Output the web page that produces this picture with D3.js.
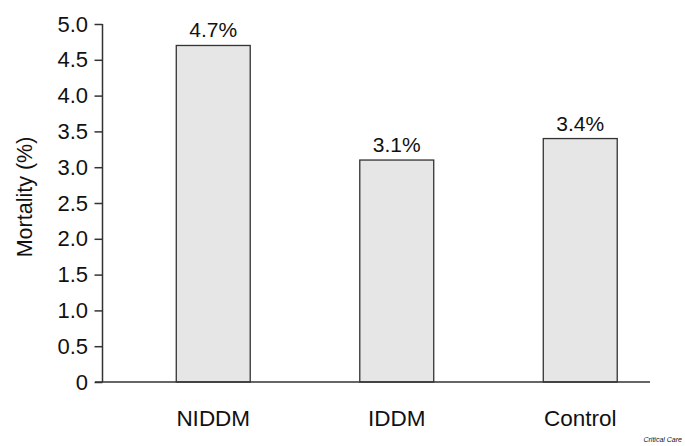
<!DOCTYPE html>
<html><head><meta charset="utf-8">
<script src="https://cdn.jsdelivr.net/npm/d3@7"></script>
<style>body{margin:0;background:#fff}svg{display:block}text{font-family:"Liberation Sans",Arial,sans-serif;fill:#111}</style>
</head><body>
<script>
const categories = ["NIDDM", "IDDM", "Control"];
const values = [4.7, 3.1, 3.4];
const valueLabels = ["4.7%", "3.1%", "3.4%"];
const yTicks = [0, 0.5, 1.0, 1.5, 2.0, 2.5, 3.0, 3.5, 4.0, 4.5, 5.0];

const W = 685, H = 446;
const svg = d3.select("body").append("svg").attr("width", W).attr("height", H);
const y = d3.scaleLinear().domain([0, 5]).range([382, 24]);
const x = d3.scaleBand().domain(categories).range([121.5, 672]).paddingInner(0.597).paddingOuter(0.2985);
const axisX = 102.5;

// bars
svg.selectAll("rect.bar").data(values).join("rect")
  .attr("x", (d, i) => x(categories[i]))
  .attr("y", d => y(d))
  .attr("width", x.bandwidth())
  .attr("height", d => y(0) - y(d))
  .attr("fill", "#e6e6e6").attr("stroke", "#333").attr("stroke-width", 1.3);

// y axis
const yAxis = d3.axisLeft(y).tickValues(yTicks).tickSize(8).tickPadding(6.5)
  .tickFormat(d => d === 0 ? "0" : d3.format(".1f")(d));
const gy = svg.append("g").attr("transform", `translate(${axisX},0)`).call(yAxis);
gy.select(".domain").attr("stroke", "#333").attr("stroke-width", 1.5).attr("d", `M0,${y(5)}V${y(0)}`);
gy.selectAll(".tick line").attr("stroke", "#333").attr("stroke-width", 1.5);
gy.selectAll(".tick text").attr("font-size", 22).attr("font-family", "Liberation Sans, Arial, sans-serif").attr("fill", "#111");

// x axis baseline
svg.append("line").attr("x1", 95).attr("x2", 650).attr("y1", y(0)).attr("y2", y(0))
  .attr("stroke", "#333").attr("stroke-width", 1.5);

// x labels
svg.selectAll("text.xl").data(categories).join("text")
  .attr("x", d => x(d) + x.bandwidth() / 2).attr("y", 426)
  .attr("text-anchor", "middle").attr("font-size", 22.5).text(d => d);

// value labels
svg.selectAll("text.vl").data(values).join("text")
  .attr("x", (d, i) => x(categories[i]) + x.bandwidth() / 2).attr("y", d => y(d) - 8)
  .attr("text-anchor", "middle").attr("font-size", 21).text((d, i) => valueLabels[i]);

// y title
svg.append("text").attr("transform", "translate(32,197) rotate(-90)")
  .attr("text-anchor", "middle").attr("font-size", 21.5).text("Mortality (%)");

// credit
svg.append("text").attr("x", 682).attr("y", 442).attr("text-anchor", "end")
  .attr("font-size", 7).attr("font-style", "italic").attr("fill", "#333").text("Critical Care");
</script>
</body></html>
